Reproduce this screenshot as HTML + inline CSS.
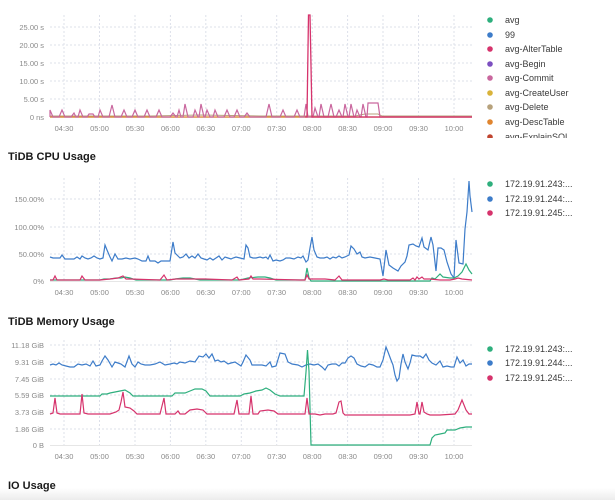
<!DOCTYPE html>
<html><head><meta charset="utf-8"><style>
html,body{margin:0;padding:0;background:#fff;width:615px;height:500px;overflow:hidden;font-family:"Liberation Sans",sans-serif;}
svg{position:absolute;left:0;top:0}
</style></head><body>
<svg width="615" height="500" viewBox="0 0 615 500" xmlns="http://www.w3.org/2000/svg" font-family="Liberation Sans, sans-serif">
<defs><linearGradient id="bg" x1="0" y1="0" x2="0" y2="1"><stop offset="0" stop-color="#fff"/><stop offset="1" stop-color="#ececec"/></linearGradient></defs>
<rect x="0" y="488" width="615" height="12" fill="url(#bg)"/>
<g stroke="#dde0ea" stroke-dasharray="2,2" stroke-width="1">
<line x1="50" x2="472" y1="27" y2="27"/><line x1="50" x2="472" y1="45" y2="45"/><line x1="50" x2="472" y1="63" y2="63"/><line x1="50" x2="472" y1="81" y2="81"/><line x1="50" x2="472" y1="99" y2="99"/>
<line x1="50" x2="472" y1="199" y2="199"/><line x1="50" x2="472" y1="227" y2="227"/><line x1="50" x2="472" y1="254" y2="254"/>
<line x1="50" x2="472" y1="345" y2="345"/><line x1="50" x2="472" y1="362" y2="362"/><line x1="50" x2="472" y1="379" y2="379"/><line x1="50" x2="472" y1="395" y2="395"/><line x1="50" x2="472" y1="412" y2="412"/><line x1="50" x2="472" y1="429" y2="429"/>
</g>
<g stroke="#dde0ea" stroke-dasharray="2,2" stroke-width="1">
<path d="M64 15V117M99.5 15V117M135 15V117M170.4 15V117M205.8 15V117M241.3 15V117M276.7 15V117M312.2 15V117M347.6 15V117M383 15V117M418.5 15V117M454 15V117"/>
<path d="M64 178V281M99.5 178V281M135 178V281M170.4 178V281M205.8 178V281M241.3 178V281M276.7 178V281M312.2 178V281M347.6 178V281M383 178V281M418.5 178V281M454 178V281"/>
<path d="M64 340V445M99.5 340V445M135 340V445M170.4 340V445M205.8 340V445M241.3 340V445M276.7 340V445M312.2 340V445M347.6 340V445M383 340V445M418.5 340V445M454 340V445"/>
</g>
<g stroke="#e6e6e6"><line x1="50" x2="472" y1="117.5" y2="117.5"/><line x1="50" x2="472" y1="281.5" y2="281.5"/><line x1="50" x2="472" y1="445.5" y2="445.5"/></g>
<g font-size="7.5" fill="#8a8a8a" text-anchor="end">
<text x="44" y="30">25.00 s</text><text x="44" y="48">20.00 s</text><text x="44" y="66">15.00 s</text><text x="44" y="84">10.00 s</text><text x="44" y="102">5.00 s</text><text x="44" y="120">0 ns</text>
<text x="44" y="202">150.00%</text><text x="44" y="230">100.00%</text><text x="44" y="257">50.00%</text><text x="44" y="284">0%</text>
<text x="44" y="348">11.18 GiB</text><text x="44" y="365">9.31 GiB</text><text x="44" y="382">7.45 GiB</text><text x="44" y="398">5.59 GiB</text><text x="44" y="415">3.73 GiB</text><text x="44" y="432">1.86 GiB</text><text x="44" y="448">0 B</text>
</g>
<g font-size="7.5" fill="#8a8a8a" text-anchor="middle">
<g transform="translate(0,131)"><text x="64">04:30</text><text x="99.5">05:00</text><text x="135">05:30</text><text x="170.4">06:00</text><text x="205.8">06:30</text><text x="241.3">07:00</text><text x="276.7">07:30</text><text x="312.2">08:00</text><text x="347.6">08:30</text><text x="383">09:00</text><text x="418.5">09:30</text><text x="454">10:00</text></g>
<g transform="translate(0,295)"><text x="64">04:30</text><text x="99.5">05:00</text><text x="135">05:30</text><text x="170.4">06:00</text><text x="205.8">06:30</text><text x="241.3">07:00</text><text x="276.7">07:30</text><text x="312.2">08:00</text><text x="347.6">08:30</text><text x="383">09:00</text><text x="418.5">09:30</text><text x="454">10:00</text></g>
<g transform="translate(0,459)"><text x="64">04:30</text><text x="99.5">05:00</text><text x="135">05:30</text><text x="170.4">06:00</text><text x="205.8">06:30</text><text x="241.3">07:00</text><text x="276.7">07:30</text><text x="312.2">08:00</text><text x="347.6">08:30</text><text x="383">09:00</text><text x="418.5">09:30</text><text x="454">10:00</text></g>
</g>
<polyline fill="none" stroke="#b7a27c" stroke-width="1" points="50,116 100,116 150,116 200,115 260,116 300,116 355,116 365,114 378,114 382,116 472,116"/>
<polyline fill="none" stroke="#e0852f" stroke-width="1.2" points="50,117 472,117"/>
<polyline fill="none" stroke="#c9679e" stroke-width="1.2" points="50,117 50,110 53,117 59,117 62,110 65,117 71,117 74,113 76,117 78,117 80,110 83,117 87,117 89,114 93,114 95,117 98,117 100,110 103,117 109,117 112,105 115,117 121,117 124,110 127,117 132,117 135,110 138,117 144,117 147,110 150,117 156,117 159,110 162,117 170,117 173,113 176,117 177,117 179,110 181,117 183,117 185,104 188,117 193,117 195,110 198,117 199,117 201,104 204,117 205,117 207,110 210,117 213,117 215,110 218,117 224,117 227,110 230,117 234,117 237,110 240,117 244,117 247,113 250,117 266,117 269,104 272,117 280,117 283,110 286,117 294,117 297,110 300,117 304,117 306,104 308,117 311,117 313,117 315,108 318,117 319,117 321,104 324,117 328,117 331,104 334,117 336,117 339,110 342,117 343,117 345,104 348,117 349,117 351,104 354,117 355,117 357,110 360,117 361,117 363,104 366,117 367,117 368,103 378,103 380,117 472,117"/>
<polyline fill="none" stroke="#d6336c" stroke-width="1.3" points="305,117 307,117 308.5,15 310,15 312,117 472,117"/>
<polyline fill="none" stroke="#3d7cc9" stroke-width="1.2" points="50,257 53,258 57,258 60,258 62,255 65,259 70,259 74,259 77,257 80,259 82,256 85,258 88,259 91,258 94,256 97,258 100,259 103,258 105,245 107,250 110,257 112,261 115,254 118,259 122,259 126,258 130,259 135,258 138,259 142,261 146,261 148,256 150,261 155,261 158,263 161,261 165,261 170,261 173,242 175,253 180,258 183,257 186,254 189,258 192,256 195,258 198,254 201,258 204,259 207,260 210,258 213,260 216,258 219,256 222,260 225,257 228,258 231,259 233,258 236,257 240,258 244,259 246,245 248,248 250,257 253,258 256,258 260,257 263,258 266,257 268,259 270,255 273,261 276,260 280,261 283,260 286,258 290,258 294,259 298,257 301,258 303,256 306,262 308,260 310,248 312,237 314,250 317,257 320,258 324,258 327,257 330,259 333,257 336,258 339,256 342,258 345,257 349,255 351,246 354,249 357,254 360,252 362,257 365,258 370,257 375,258 380,259 383,276 386,250 389,265 393,268 398,271 401,266 405,262 407,256 409,245 413,244 416,246 419,247 422,238 424,247 428,250 431,237 433,245 436,271 438,248 441,248 444,250 447,262 451,274 454,278 456,240 459,263 463,264 465,229 467,212 469,181 470,196 472,212"/>
<polyline fill="none" stroke="#2eaf7d" stroke-width="1.2" points="50,280 100,280 104,279 110,279 116,278 121,278 125,277 130,278 136,280 160,280 170,280 175,279 183,278 190,278 195,279 200,280 240,280 248,278 258,277 265,277 270,278 276,280 300,280 305,280 307,268 309,278 311,281 430,281 432,278 435,279 438,276 440,274 443,277 450,278 454,278 458,276 462,272 466,264 469,270 472,274"/>
<polyline fill="none" stroke="#d6336c" stroke-width="1.2" points="50,280 53,280 55,276 57,280 80,280 82,276 85,280 100,280 110,279 118,278 123,276 126,279 130,279 160,280 164,275 167,280 176,279 186,279 195,279 205,279 232,280 237,277 239,280 249,279 251,276 253,279 260,279 300,280 305,280 307,275 309,279 315,279 320,279 325,279 335,280 339,276 342,280 360,280 380,280 384,279 388,280 410,280 413,278 415,280 417,277 419,279 422,277 424,279 430,279 440,280 450,280 455,279 458,278 462,279 472,280"/>
<polyline fill="none" stroke="#3d7cc9" stroke-width="1.2" points="50,365 53,364 56,365 59,363 62,365 66,366 70,367 74,367 78,364 82,365 86,364 90,366 93,361 96,366 100,365 102,361 105,356 108,360 112,367 115,362 118,363 121,364 125,367 129,356 132,364 135,367 138,362 141,364 145,365 150,365 155,364 160,362 165,365 170,364 174,363 177,364 180,362 185,363 190,361 195,362 199,356 203,357 206,354 209,358 212,354 215,361 218,360 221,362 224,361 228,364 231,363 235,362 238,364 241,366 243,362 246,355 250,360 252,365 256,365 262,365 266,366 270,362 272,367 276,366 280,353 285,354 288,362 292,364 298,365 302,367 306,365 310,364 314,365 318,364 322,367 325,370 328,365 332,364 336,364 339,366 342,363 345,363 348,358 351,356 354,358 357,364 361,366 365,367 369,364 373,365 377,367 380,367 383,360 386,347 388,352 391,360 393,365 395,375 397,381 399,378 401,364 403,354 405,362 408,369 410,363 412,355 416,356 420,356 423,358 426,354 429,360 432,363 436,365 440,361 443,367 447,366 451,367 454,367 457,357 460,363 463,360 466,366 469,364 472,364"/>
<polyline fill="none" stroke="#2eaf7d" stroke-width="1.2" points="50,396 100,396 102,394 107,394 110,393 115,392 120,391 125,390 130,393 133,396 160,396 172,396 175,393 185,393 190,391 195,389 202,389 206,391 210,396 240,396 244,394 250,393 256,391 262,390 266,388 270,390 275,394 280,396 300,396 304,396 306,372 307.5,350 309,371 311,445 430,445 432,438 435,435 440,434 445,433 447,430 455,430 460,428 466,427 472,427"/>
<polyline fill="none" stroke="#d6336c" stroke-width="1.2" points="50,414 53,413 55,398 57,413 60,414 80,414 82,394 84,413 88,414 100,414 110,414 116,412 119,410 121,402 123,392 125,407 130,408 134,411 137,414 160,414 164,398 166,414 175,414 178,411 180,414 185,414 190,410 197,409 203,410 207,414 234,414 237,400 239,414 249,414 251,396 253,414 258,414 260,411 268,410 274,411 278,414 305,414 307,398 309,414 315,414 320,415 325,414 333,414 336,413 339,402 341,401 343,413 345,415 360,415 380,415 400,415 410,415 415,414 417,402 419,414 420,414 422,402 424,412 427,414 430,415 440,415 455,414 458,410 462,400 466,410 469,414 472,414"/>
<clipPath id="lc"><rect x="480" y="130" width="130" height="8"/></clipPath>
<g font-size="9" fill="#3a3a3a">
<circle cx="490" cy="20" r="2.8" fill="#2eaf7d"/><text x="505" y="23">avg</text>
<circle cx="490" cy="35" r="2.8" fill="#3d7cc9"/><text x="505" y="38">99</text>
<circle cx="490" cy="49" r="2.8" fill="#d6336c"/><text x="505" y="52">avg-AlterTable</text>
<circle cx="490" cy="64" r="2.8" fill="#7c4fc0"/><text x="505" y="67">avg-Begin</text>
<circle cx="490" cy="78" r="2.8" fill="#c9679e"/><text x="505" y="81">avg-Commit</text>
<circle cx="490" cy="93" r="2.8" fill="#d9b33a"/><text x="505" y="96">avg-CreateUser</text>
<circle cx="490" cy="107" r="2.8" fill="#b7a27c"/><text x="505" y="110">avg-Delete</text>
<circle cx="490" cy="122" r="2.8" fill="#e0852f"/><text x="505" y="125">avg-DescTable</text>
<g clip-path="url(#lc)"><circle cx="490" cy="137" r="2.8" fill="#c0442f"/><text x="505" y="140">avg-ExplainSQL</text></g>
<circle cx="490" cy="184" r="2.8" fill="#2eaf7d"/><text x="505" y="187">172.19.91.243:...</text>
<circle cx="490" cy="199" r="2.8" fill="#3d7cc9"/><text x="505" y="202">172.19.91.244:...</text>
<circle cx="490" cy="213" r="2.8" fill="#d6336c"/><text x="505" y="216">172.19.91.245:...</text>
<circle cx="490" cy="349" r="2.8" fill="#2eaf7d"/><text x="505" y="352">172.19.91.243:...</text>
<circle cx="490" cy="363" r="2.8" fill="#3d7cc9"/><text x="505" y="366">172.19.91.244:...</text>
<circle cx="490" cy="378" r="2.8" fill="#d6336c"/><text x="505" y="381">172.19.91.245:...</text>
</g>
<g font-size="11" font-weight="bold" fill="#1a1a1a">
<text x="8" y="160">TiDB CPU Usage</text>
<text x="8" y="325">TiDB Memory Usage</text>
<text x="8" y="489">IO Usage</text>
</g>
</svg>
</body></html>
